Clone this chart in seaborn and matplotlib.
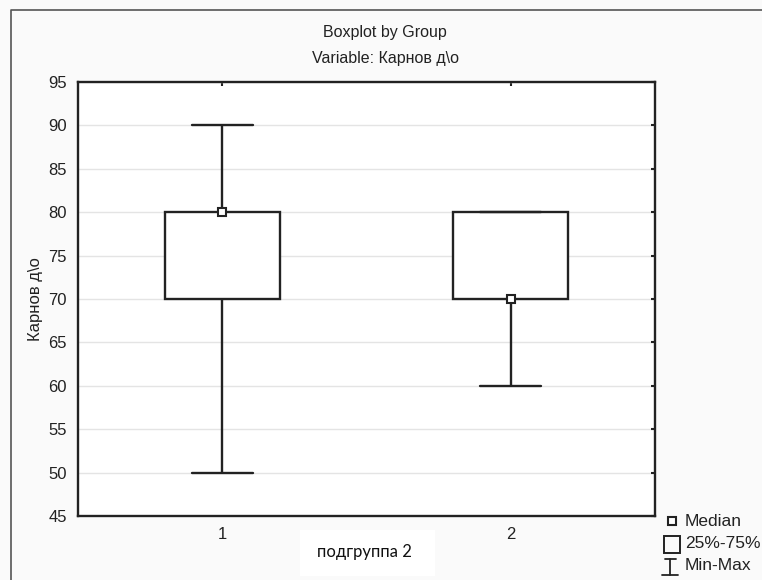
import matplotlib
matplotlib.use("Agg")
import matplotlib.pyplot as plt
import seaborn as sns
import pandas as pd
from matplotlib.lines import Line2D
from matplotlib.patches import Rectangle

# Data (samples reproducing the shown min / quartiles / median / max)
group_labels = ["1", "2"]
group1_values = [50, 70, 70, 80, 80, 80, 90]
group2_values = [60, 70, 70, 70, 80, 80, 80]
y_ticks = [45, 50, 55, 60, 65, 70, 75, 80, 85, 90, 95]

title_line1 = "Boxplot by Group"
title_line2 = "Variable: Карнов д\\о"
y_label = "Карнов д\\о"
x_label = "подгруппа 2"
legend_labels = ["Median", "25%-75%", "Min-Max"]

df = pd.DataFrame({
    "group": [group_labels[0]] * len(group1_values) + [group_labels[1]] * len(group2_values),
    "value": group1_values + group2_values,
})

sns.set_style("white")
plt.rcParams["font.family"] = ["Liberation Sans", "DejaVu Sans"]

W, H = 762, 580
fig = plt.figure(figsize=(W / 100, H / 100), dpi=100)
fig.patch.set_facecolor("#fafafa")

ax = fig.add_axes([78 / W, 1 - 516 / H, (655 - 78) / W, (516 - 82) / H])
ax.set_facecolor("white")

ec = "#222222"
sns.boxplot(
    data=df, x="group", y="value", order=group_labels, ax=ax,
    whis=(0, 100), width=0.4, color="white", linecolor=ec, linewidth=1.7,
    showcaps=True, showfliers=False,
    boxprops=dict(facecolor="white", edgecolor=ec, linewidth=1.7),
    whiskerprops=dict(color=ec, linewidth=1.7),
    capprops=dict(color=ec, linewidth=1.7),
    medianprops=dict(linewidth=0, color="none"),
    capwidths=0.21,
)

sns.pointplot(
    data=df, x="group", y="value", order=group_labels, ax=ax,
    estimator="median", errorbar=None, linestyle="none",
    marker="s", markersize=6, markerfacecolor="white",
    markeredgecolor=ec, markeredgewidth=1.5, color=ec,
)

ax.set_xlim(-0.5, 1.5)
ax.set_ylim(45, 95)
ax.set_yticks(y_ticks)
ax.set_yticklabels([str(t) for t in y_ticks])
ax.yaxis.grid(True, color="#e4e4e4", linewidth=1)
ax.set_axisbelow(True)
ax.set_xlabel("")
ax.set_ylabel(y_label, fontsize=12, color="#222222", labelpad=4)
ax.tick_params(axis="both", direction="in", length=3, width=1.5, colors=ec,
               labelsize=12, labelcolor="#222222", top=True, right=True)
ax.tick_params(axis="y", pad=8)
ax.tick_params(axis="x", pad=8)
for s in ax.spines.values():
    s.set_visible(True)
    s.set_color(ec)
    s.set_linewidth(1.7)

# Titles
fig.text(385 / W, 1 - 32 / H, title_line1, ha="center", va="center", fontsize=11.5, color="#222222")
fig.text(385 / W, 1 - 58 / H, title_line2, ha="center", va="center", fontsize=11.5, color="#222222")

# Outer frame
fig.add_artist(Line2D([11 / W, 11 / W, 1.0], [0.0, 1 - 10 / H, 1 - 10 / H],
                      transform=fig.transFigure, color="#555555", linewidth=1.2))

# X label in white box
fig.add_artist(Rectangle((300 / W, 1 - 576 / H), 135 / W, 46 / H, transform=fig.transFigure,
                         facecolor="white", edgecolor="none"))
fig.text(364 / W, 1 - 552 / H, x_label, ha="center", va="center", fontsize=12,
         family=["Lato", "DejaVu Sans"], color="#111111")

# Legend (manual)
fig.add_artist(Line2D([672 / W], [1 - 521 / H], marker="s", markersize=5.5, markerfacecolor="white",
                      markeredgecolor=ec, markeredgewidth=1.5, transform=fig.transFigure))
fig.add_artist(Rectangle((664 / W, 1 - 553 / H), 16 / W, 17 / H, transform=fig.transFigure,
                         facecolor="none", edgecolor=ec, linewidth=1.4))
fig.add_artist(Line2D([670 / W, 670 / W], [1 - 559 / H, 1 - 575 / H], transform=fig.transFigure,
                      color=ec, linewidth=1.3))
fig.add_artist(Line2D([665 / W, 676 / W], [1 - 559 / H, 1 - 559 / H], transform=fig.transFigure,
                      color=ec, linewidth=1.3))
fig.add_artist(Line2D([662 / W, 678 / W], [1 - 575 / H, 1 - 575 / H], transform=fig.transFigure,
                      color=ec, linewidth=1.3))
for yy, lab in zip([521, 544, 566], legend_labels):
    fig.text(685 / W, 1 - yy / H, lab, ha="left", va="center", fontsize=12.5, color="#222222")

fig.savefig("out.png", dpi=100, facecolor=fig.get_facecolor())
